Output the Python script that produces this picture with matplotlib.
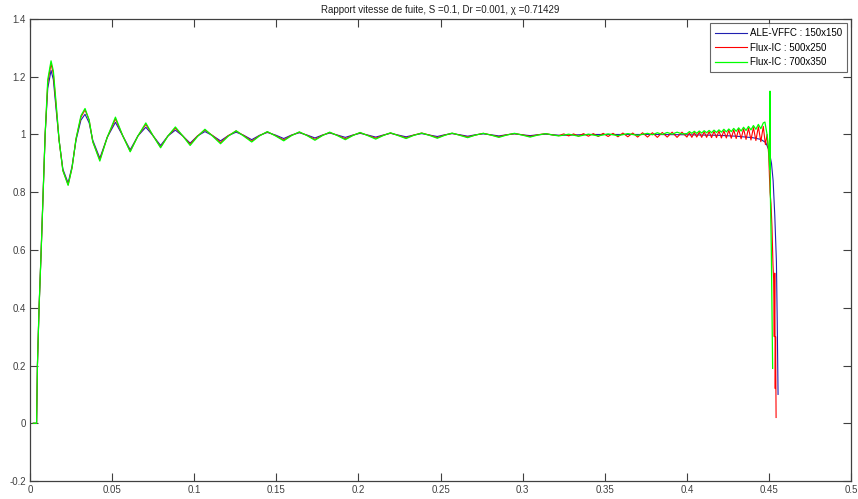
import matplotlib
matplotlib.use("Agg")
import matplotlib.pyplot as plt

plt.rcParams['font.family'] = ['Liberation Sans', 'DejaVu Sans']

# --- data ---

# common abscissa for the damped oscillation part
x_osc = [
    0.0020, 0.0040, 0.0045, 0.0055, 0.0068, 0.0080, 0.0092, 0.0108, 0.0128, 0.0142,
    0.0160, 0.0177, 0.0200, 0.0232, 0.0256, 0.0280, 0.0310, 0.0335, 0.0360, 0.0382,
    0.0425, 0.0470, 0.0520, 0.0565, 0.0610, 0.0657, 0.0705, 0.0750, 0.0795, 0.0840,
    0.0885, 0.0930, 0.0975, 0.1020, 0.1065, 0.1112, 0.1160, 0.1207, 0.1255, 0.1302,
    0.1350, 0.1397, 0.1445, 0.1495, 0.1545, 0.1592, 0.1640, 0.1687, 0.1735, 0.1780,
    0.1825, 0.1872, 0.1920, 0.1965, 0.2010, 0.2057, 0.2105, 0.2150, 0.2195, 0.2242,
    0.2290, 0.2337, 0.2385, 0.2432, 0.2480, 0.2525, 0.2570, 0.2617, 0.2665, 0.2712,
    0.2760, 0.2807, 0.2855, 0.2902, 0.2950, 0.2997, 0.3045, 0.3092, 0.3140, 0.3185,
]
blue_osc = [
    0.0, 0.0, 0.2, 0.4, 0.6, 0.8, 1.0, 1.16, 1.222, 1.19,
    1.08, 0.98, 0.88, 0.832, 0.89, 0.98, 1.05, 1.070, 1.04, 0.98,
    0.918, 0.99, 1.042, 0.995, 0.947, 0.995, 1.025, 0.995, 0.962, 0.995,
    1.015, 0.995, 0.970, 0.995, 1.010, 0.996, 0.978, 0.996, 1.008, 0.997,
    0.982, 0.997, 1.007, 0.998, 0.986, 0.998, 1.006, 0.998, 0.988, 0.998,
    1.005, 0.998, 0.990, 0.998, 1.004, 0.998, 0.991, 0.998, 1.004, 0.998,
    0.992, 0.998, 1.003, 0.998, 0.993, 0.999, 1.003, 0.999, 0.994, 0.999,
    1.002, 0.999, 0.995, 0.999, 1.002, 0.999, 0.996, 0.999, 1.001, 0.999,
]
red_osc = [
    0.0, 0.0, 0.2, 0.4, 0.6, 0.8, 1.0, 1.18, 1.245, 1.21,
    1.09, 0.98, 0.875, 0.826, 0.885, 0.985, 1.06, 1.085, 1.05, 0.975,
    0.912, 0.99, 1.054, 0.995, 0.942, 0.995, 1.035, 0.995, 0.956, 0.995,
    1.022, 0.995, 0.966, 0.995, 1.016, 0.996, 0.972, 0.996, 1.012, 0.996,
    0.977, 0.996, 1.009, 0.996, 0.981, 0.997, 1.008, 0.997, 0.983, 0.997,
    1.007, 0.997, 0.985, 0.997, 1.006, 0.997, 0.987, 0.997, 1.005, 0.997,
    0.988, 0.998, 1.005, 0.998, 0.989, 0.998, 1.004, 0.998, 0.991, 0.998,
    1.004, 0.998, 0.992, 0.999, 1.003, 0.999, 0.993, 0.999, 1.003, 0.998,
]
green_osc = [
    0.0, 0.0, 0.2, 0.4, 0.6, 0.8, 1.0, 1.19, 1.255, 1.22,
    1.10, 0.98, 0.875, 0.824, 0.885, 0.985, 1.065, 1.090, 1.05, 0.975,
    0.908, 0.99, 1.060, 0.995, 0.940, 0.995, 1.040, 0.995, 0.954, 0.995,
    1.026, 0.995, 0.962, 0.993, 1.018, 0.994, 0.968, 0.994, 1.013, 0.994,
    0.974, 0.995, 1.010, 0.995, 0.978, 0.996, 1.009, 0.996, 0.980, 0.996,
    1.008, 0.996, 0.982, 0.996, 1.007, 0.996, 0.984, 0.996, 1.006, 0.996,
    0.986, 0.997, 1.005, 0.997, 0.987, 0.997, 1.005, 0.997, 0.989, 0.998,
    1.004, 0.998, 0.990, 0.998, 1.004, 0.998, 0.991, 0.998, 1.003, 0.998,
]

# end of each run, up to the collapse near x = 0.45
x_blue_tail = [0.3230, 0.3400, 0.3600, 0.3800, 0.4000, 0.4200, 0.4300, 0.4400, 0.4450,
               0.4480, 0.4500, 0.4515, 0.4525, 0.4535, 0.4545, 0.4550, 0.4555]
blue_tail = [0.997, 1.000, 1.000, 1.000, 0.999, 0.997, 0.994, 0.989, 0.983,
             0.972, 0.945, 0.90, 0.84, 0.72, 0.56, 0.35, 0.10]

# shared abscissa for the fine jitter of the two Flux-IC runs before the collapse
x_jitter = [
    0.4000, 0.4015, 0.4030, 0.4045, 0.4060, 0.4075, 0.4090, 0.4105, 0.4120, 0.4135,
    0.4150, 0.4165, 0.4180, 0.4195, 0.4210, 0.4225, 0.4240, 0.4255, 0.4270, 0.4285,
    0.4300, 0.4315, 0.4330, 0.4345, 0.4360, 0.4375, 0.4390, 0.4405, 0.4420, 0.4435,
    0.4450, 0.4465,
]
red_jitter = [
    0.991, 1.006, 0.990, 1.007, 0.991, 1.008, 0.990, 1.009, 0.990, 1.010,
    0.989, 1.011, 0.989, 1.012, 0.988, 1.013, 0.988, 1.015, 0.987, 1.016,
    0.986, 1.018, 0.985, 1.020, 0.983, 1.022, 0.981, 1.024, 0.979, 1.027,
    0.975, 1.028,
]
green_jitter = [
    1.003, 1.010, 1.004, 1.011, 1.004, 1.012, 1.005, 1.013, 1.006, 1.014,
    1.006, 1.015, 1.007, 1.016, 1.008, 1.018, 1.009, 1.019, 1.010, 1.021,
    1.011, 1.023, 1.012, 1.025, 1.014, 1.028, 1.016, 1.031, 1.018, 1.035,
    1.020, 1.040,
]

x_red_mid = [
    0.322, 0.325, 0.328, 0.331, 0.334, 0.337, 0.340, 0.343, 0.346, 0.349,
    0.352, 0.355, 0.358, 0.361, 0.364, 0.367, 0.370, 0.373, 0.376, 0.379,
    0.382, 0.385, 0.388, 0.391, 0.394, 0.397,
]
red_mid = [
    0.996, 1.002, 0.995, 1.002, 0.994, 1.003, 0.994, 1.003, 0.993, 1.004,
    0.993, 1.004, 0.992, 1.005, 0.992, 1.005, 0.991, 1.006, 0.991, 1.006,
    0.990, 1.007, 0.991, 1.008, 0.990, 1.008,
]
x_red_end = [0.4478, 0.4488, 0.4498, 0.4506, 0.4512, 0.4518, 0.4524, 0.4528,
             0.4532, 0.4535, 0.4538, 0.4540, 0.4543]
red_end = [0.965, 1.000, 0.93, 0.80, 0.76, 0.68, 0.55, 0.50,
           0.30, 0.52, 0.12, 0.30, 0.02]

x_green_mid = [
    0.322, 0.328, 0.334, 0.340, 0.346, 0.352, 0.358, 0.364, 0.370, 0.376,
    0.379, 0.382, 0.385, 0.388, 0.391, 0.394, 0.397,
]
green_mid = [
    0.995, 1.001, 0.994, 1.001, 0.995, 1.002, 0.996, 1.003, 0.997, 1.004,
    0.999, 1.006, 1.000, 1.007, 1.001, 1.008, 1.002,
]
x_green_end = [0.4475, 0.4488, 0.4498, 0.4504, 0.4506, 0.4508, 0.4514, 0.4518, 0.4522]
green_end = [1.043, 1.000, 0.95, 0.88, 1.15, 0.80, 0.60, 0.40, 0.19]

labels = ["ALE-VFFC : 150x150", "Flux-IC : 500x250", "Flux-IC : 700x350"]
title = "Rapport vitesse de fuite, S =0.1, Dr =0.001, \u03c7 =0.71429"

# --- figure ---
fig = plt.figure(figsize=(8.58, 4.99), dpi=100)
ax = fig.add_axes([0.035, 0.036, 0.957, 0.926])

ax.plot(x_osc + x_blue_tail, blue_osc + blue_tail,
        color="#2020b0", lw=0.8, label=labels[0])
ax.plot(x_osc + x_red_mid + x_jitter + x_red_end, red_osc + red_mid + red_jitter + red_end,
        color="#ff0000", lw=0.8, label=labels[1])
ax.plot(x_osc + x_green_mid + x_jitter + x_green_end, green_osc + green_mid + green_jitter + green_end,
        color="#00ff00", lw=0.9, label=labels[2])

ax.set_xlim(0, 0.5)
ax.set_ylim(-0.2, 1.4)
ax.set_xticks([0, 0.05, 0.1, 0.15, 0.2, 0.25, 0.3, 0.35, 0.4, 0.45, 0.5])
ax.set_xticklabels(["0", "0.05", "0.1", "0.15", "0.2", "0.25", "0.3", "0.35", "0.4", "0.45", "0.5"])
ax.set_yticks([-0.2, 0, 0.2, 0.4, 0.6, 0.8, 1, 1.2, 1.4])
ax.set_yticklabels(["-0.2", "0", "0.2", "0.4", "0.6", "0.8", "1", "1.2", "1.4"])
ax.tick_params(direction="in", length=6, width=0.8, colors="#404040",
               labelsize=7, top=True, right=True, pad=3)
for s in ax.spines.values():
    s.set_color("#404040")
    s.set_linewidth(0.9)

ax.set_title(title, fontsize=7, color="#202020", pad=4)

leg = ax.legend(loc="upper right", fontsize=7, handlelength=3.3, frameon=True,
                fancybox=False, borderaxespad=0.45, labelspacing=0.45,
                borderpad=0.5, handletextpad=0.3)
leg.get_frame().set_edgecolor("#404040")
leg.get_frame().set_linewidth(0.8)

fig.savefig("out.png", dpi=100)
